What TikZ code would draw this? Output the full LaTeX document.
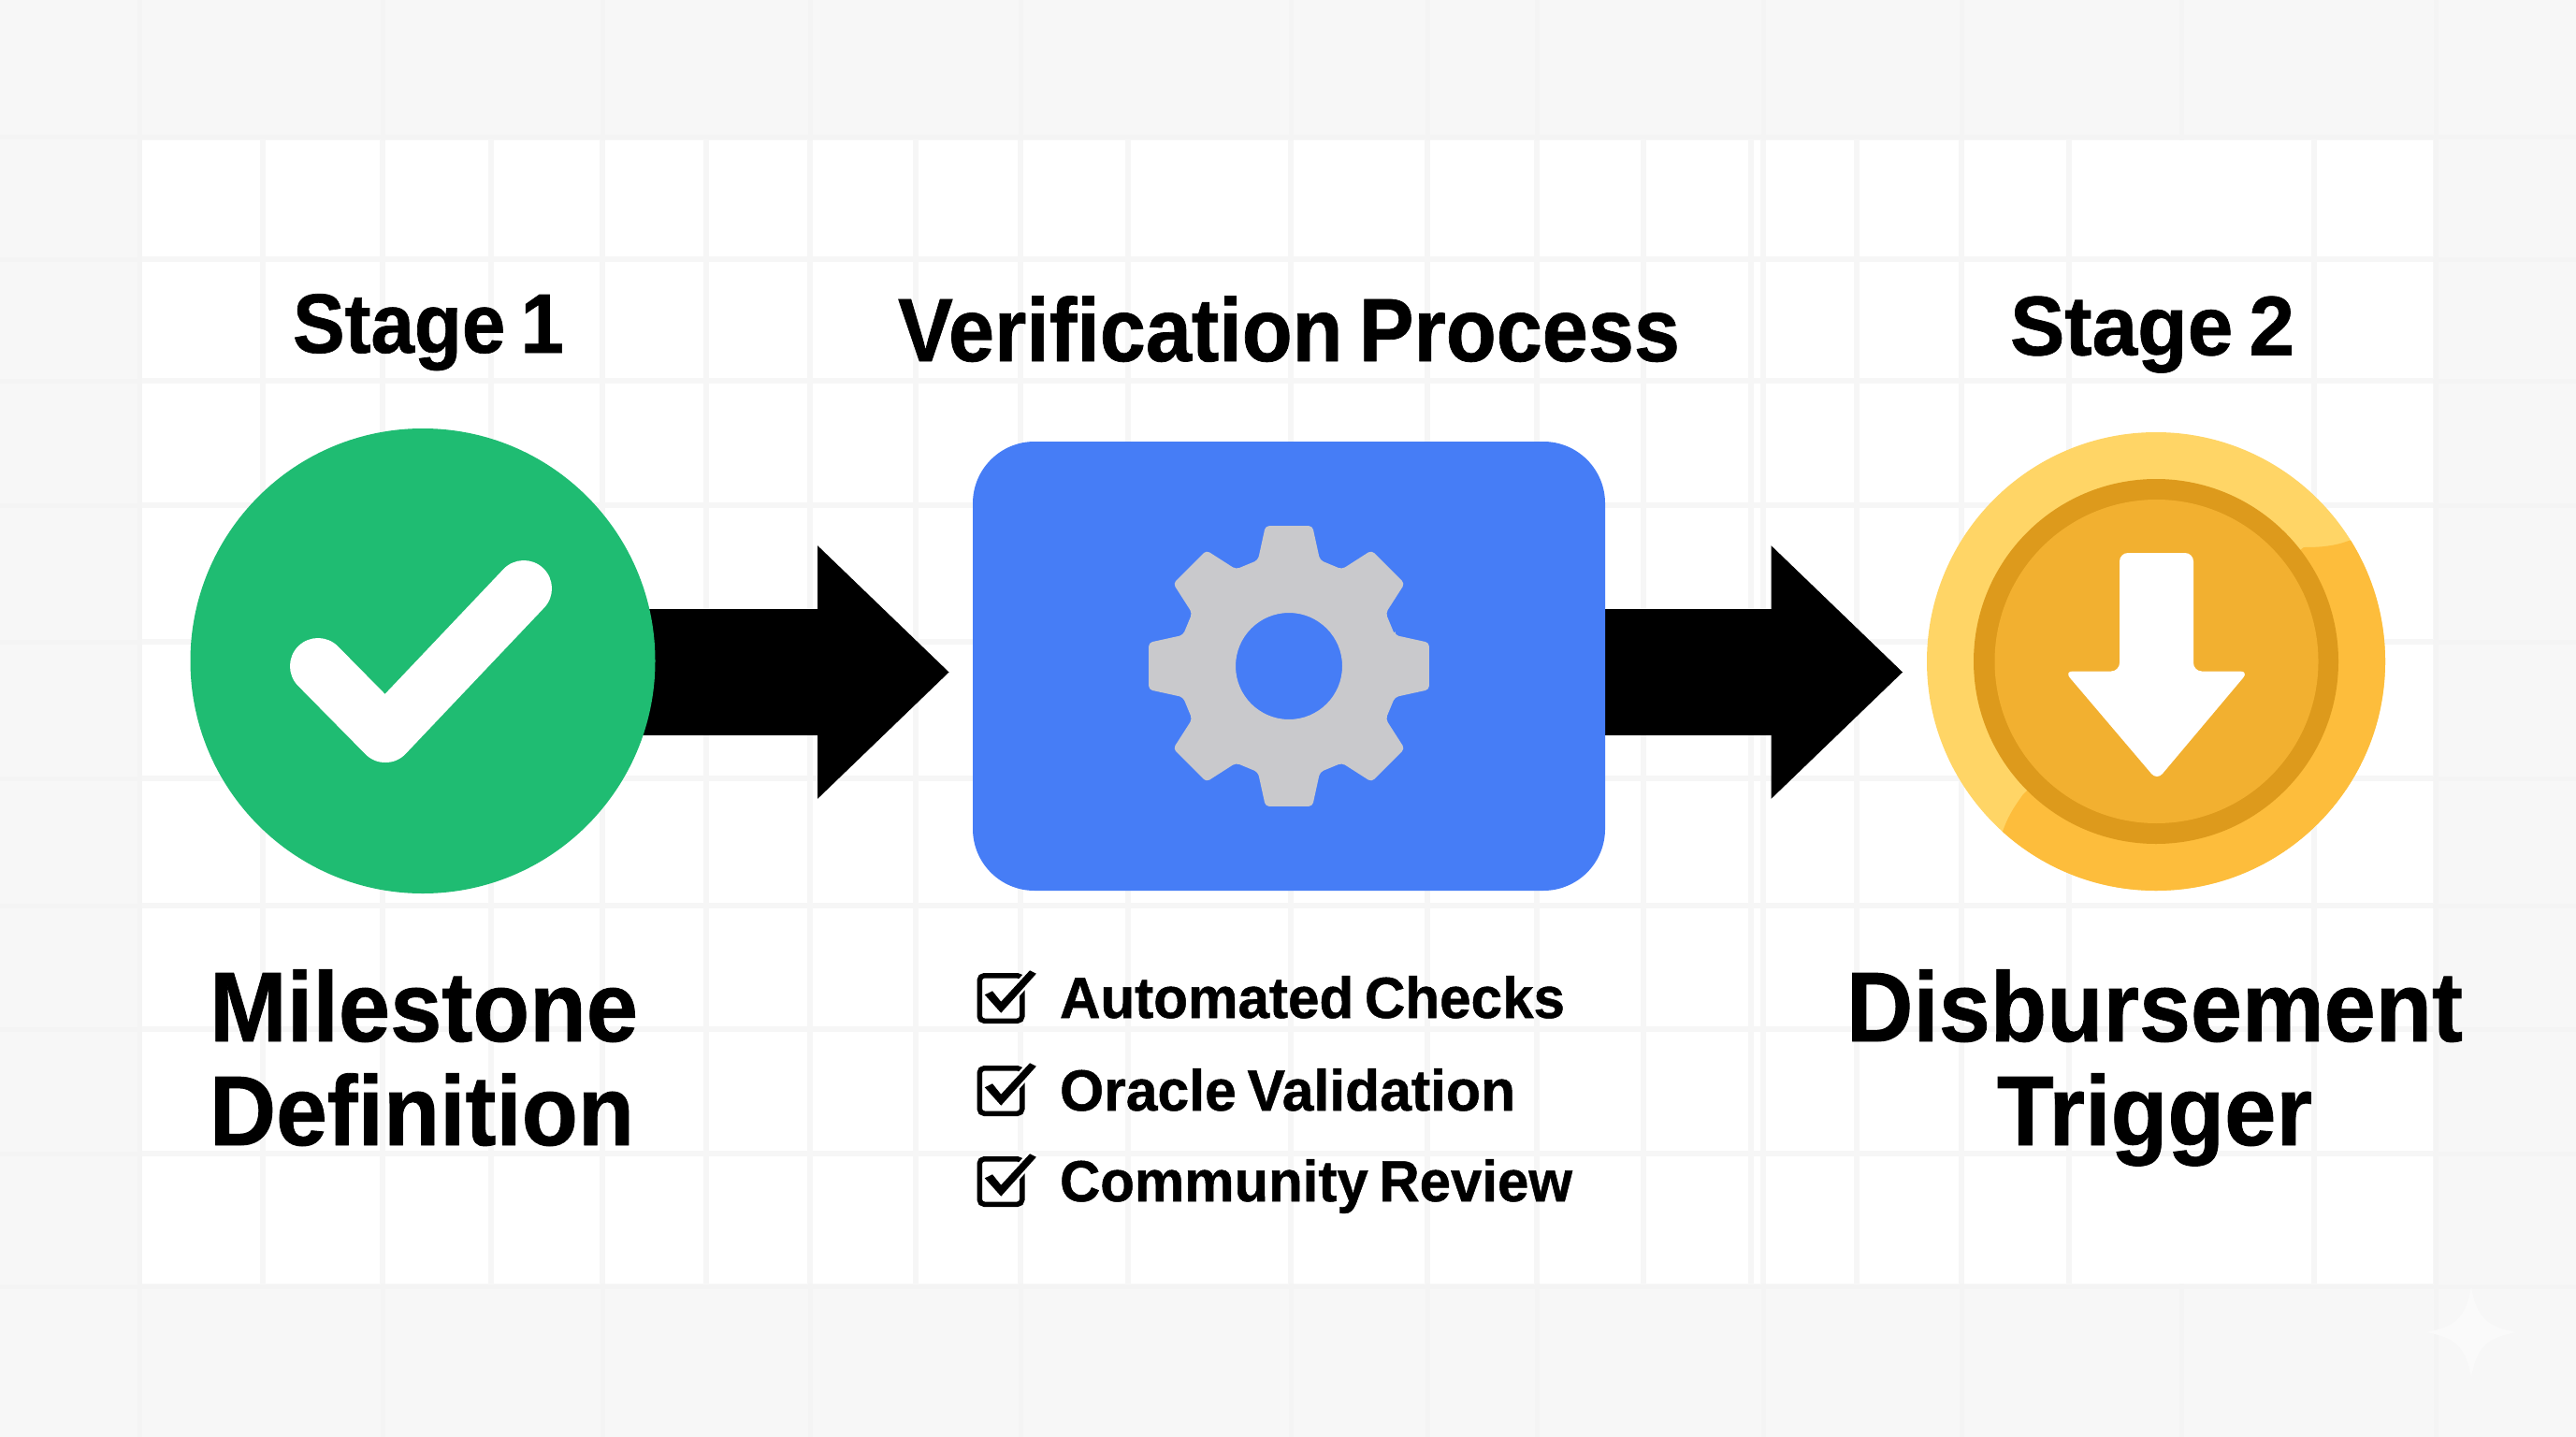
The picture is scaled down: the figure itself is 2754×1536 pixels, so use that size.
\documentclass[tikz,border=0pt]{standalone}
\usepackage{fontspec}
\usepackage{graphicx}
\setmainfont{Liberation Sans}[BoldFeatures={FakeBold=0.8},WordSpace=0.7]
\usetikzlibrary{backgrounds,arrows.meta}
\definecolor{band}{HTML}{F7F7F7}
\definecolor{gridin}{HTML}{F6F6F6}
\definecolor{gridband}{HTML}{F4F4F4}
\definecolor{okgreen}{HTML}{1FBC72}
\definecolor{boxblue}{HTML}{467DF6}
\definecolor{geargrey}{HTML}{C9C9CC}
\definecolor{coinlight}{HTML}{FFD566}
\definecolor{coinrim}{HTML}{FDBD3C}
\definecolor{coinring}{HTML}{DD9A1C}
\definecolor{coinface}{HTML}{F2B030}
\definecolor{sparkle}{HTML}{FAFAFA}
\newcommand{\fitted}[3]{\fontsize{#1}{#1}\selectfont\bfseries\resizebox{#2pt}{\height}{#3}}
\tikzset{
  blob/.style={circle,inner sep=0pt,outer sep=0pt,draw=none},
  label text/.style={inner sep=0pt,outer sep=0pt,text=black},
  flow/.style={line width=135pt,black,-{Triangle[length=141pt,width=262pt]}},
  grid inner/.style={gridin,line width=6pt},
  grid outer/.style={gridband,line width=5pt},
  checkbox/.pic={
    \draw[black,line width=5.5pt,rounded corners=5pt] (2.75,2.75) rectangle (48.25,51.25);
    \draw[white,fill=white,line width=5pt,line join=round] (8.3,23.3) -- (16.5,19.3) -- (25.7,30.7) -- (56.5,-2.7) -- (63.4,0.7) -- (25.7,42.7) -- cycle;
    \fill[black,line join=round] (8.3,23.3) -- (16.5,19.3) -- (25.7,30.7) -- (56.5,-2.7) -- (63.4,0.7) -- (25.7,42.7) -- cycle;
  }
}
\begin{document}
\begin{tikzpicture}[x=1pt,y=-1pt]
\useasboundingbox (0,0) rectangle (2754,1536);

% circle stage 1
\node[blob,fill=okgreen,minimum size=497pt] (stageone) at (452,706.5) {};
\draw[white,line width=60pt,line cap=round,line join=round] (340,712) -- (412,785) -- (560,629);

% verification box
\node[draw=none,fill=boxblue,rounded corners=66pt,minimum width=676pt,minimum height=480pt,inner sep=0pt,outer sep=0pt] (verify) at (1378,712) {};
\begin{scope}[shift={(1378,712)}]
\fill[geargrey,even odd rule,rounded corners=4pt]
  (-16.3:118)
  \foreach \a in {0,45,...,315} { -- (\a-16.3:118) -- (\a-9.5:152) -- (\a+9.5:152) -- (\a+16.3:118) } -- cycle
  (0,0) circle[radius=57];
\end{scope}

% coin
\node[blob,fill=coinlight,minimum size=490pt] (coin) at (2305,707) {};
\begin{scope}
\clip (coin.center) circle[radius=245];
\fill[coinrim] (2305,707) -- (2463,585) .. controls (2480,585) and (2495,584) .. (2511,578) -- (2600,560) -- (2600,1000) -- (2100,1000) -- (2142,886) .. controls (2148,870) and (2155,860) .. (2163,849) -- cycle;
\end{scope}
\node[blob,fill=coinring,minimum size=390pt] (coinring) at (2305,707) {};
\node[blob,fill=coinface,minimum size=346pt] (coinface) at (2305.5,707) {};
\fill[white,rounded corners=9pt] (2266,591) -- (2345,591) -- (2345,717.5) -- (2404,717.5) -- (2306,834) -- (2207,717.5) -- (2266,717.5) -- cycle;

% titles
\node[label text,anchor=base west] (titleone) at (313,377) {\fitted{90}{290}{Stage 1}};
\node[label text,anchor=base west] (titlemid) at (960,386) {\fitted{96}{836}{Verification Process}};
\node[label text,anchor=base west] (titletwo) at (2149,379.5) {\fitted{90}{304}{Stage 2}};

% captions
\node[label text,anchor=base west] (milea) at (224,1113) {\fitted{106}{458}{Milestone}};
\node[label text,anchor=base west] (mileb) at (224,1224) {\fitted{106}{454}{Definition}};
\node[label text,anchor=base west] (disba) at (1974,1113) {\fitted{106}{659}{Disbursement}};
\node[label text,anchor=base west] (disbb) at (2135,1224) {\fitted{106}{337}{Trigger}};

% check list
\pic at (1044.5,1040) {checkbox};
\pic at (1044.5,1139) {checkbox};
\pic at (1044.5,1236) {checkbox};
\node[label text,anchor=base west] (chka) at (1133,1088) {\fitted{62}{540}{Automated Checks}};
\node[label text,anchor=base west] (chkb) at (1133,1187) {\fitted{62}{487}{Oracle Validation}};
\node[label text,anchor=base west] (chkc) at (1133,1284) {\fitted{62}{548}{Community Review}};

\begin{pgfonlayer}{background}
  % page and grid
  \fill[band] (0,0) rectangle (2754,1536);
  \foreach \x in {149,409,644,866,1091,1380,1526,1643,1885,2097,2332,2604}
    \draw[grid outer] (\x,0) -- (\x,1536);
  \foreach \y in {147,277,407,540,686,832,968,1100,1233,1375}
    \draw[grid outer] (0,\y) -- (2754,\y);
  \fill[white] (152,150) rectangle (2601,1372);
  \foreach \x in {281,409,525,644,755,866,979,1091,1206,1380,1526,1643,1757,1872,1885,1985,2097,2212,2474}
    \draw[grid inner] (\x,150) -- (\x,1372);
  \foreach \y in {277,407,540,686,832,968,1100,1233}
    \draw[grid inner] (152,\y) -- (2601,\y);
  % watermark
  \fill[sparkle] (2642,1376) .. controls (2648,1408) and (2658,1418) .. (2690,1424) .. controls (2658,1430) and (2648,1440) .. (2642,1472) .. controls (2636,1440) and (2626,1430) .. (2594,1424) .. controls (2626,1418) and (2636,1408) .. cycle;
  % connectors
  \coordinate (flowline) at (0,718.5);
  \draw[flow,shorten >=25pt] (stageone.center |- flowline) -- (verify.west |- flowline);
  \draw[flow,shorten >=25.5pt] (verify.center |- flowline) -- (coin.west |- flowline);
\end{pgfonlayer}
\end{tikzpicture}
\end{document}
